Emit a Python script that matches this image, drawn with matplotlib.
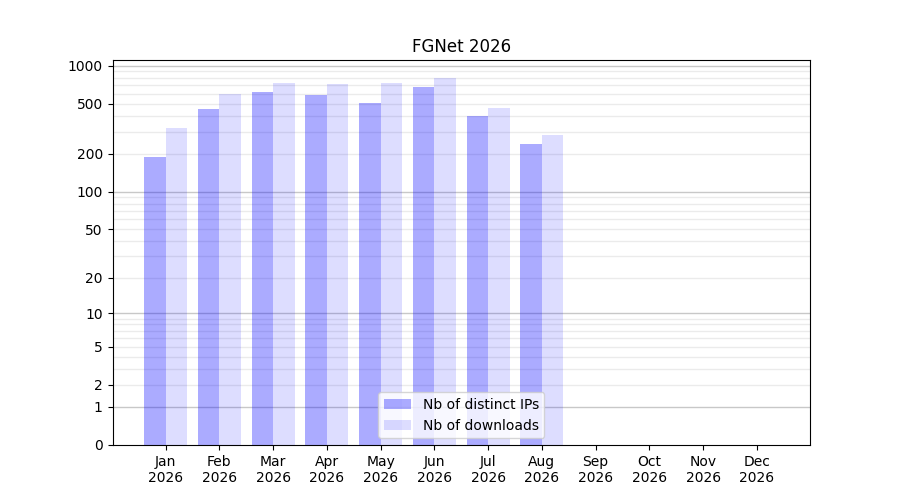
import numpy as np
import matplotlib
matplotlib.use("Agg")
import matplotlib.pyplot as plt

months = ["Jan", "Feb", "Mar", "Apr", "May", "Jun", "Jul", "Aug", "Sep", "Oct", "Nov", "Dec"]
year = "2026"
distinct_ips = [190, 457, 623, 580, 510, 683, 402, 241, 0, 0, 0, 0]
downloads = [323, 600, 734, 720, 734, 793, 465, 284, 0, 0, 0, 0]
ytick_values = [0, 1, 2, 5, 10, 20, 50, 100, 200, 500, 1000]
title = "FGNet 2026"

fig, ax = plt.subplots(figsize=(9, 5), dpi=100)
ax.set_yscale("function", functions=(lambda v: np.log10(np.maximum(v, 0) + 1),
                                      lambda t: 10 ** t - 1))

x = np.arange(len(months))
w = 0.4
ax.bar(x - w / 2, distinct_ips, width=w, color="blue", alpha=0.33,
       label="Nb of distinct IPs", zorder=2)
ax.bar(x + w / 2, downloads, width=w, color="blue", alpha=0.133,
       label="Nb of downloads", zorder=2)

# grid lines: decades darker, intermediate lighter
for d in [1, 10, 100]:
    for m in range(2, 10):
        ax.axhline(d * m, color="#ebebeb", lw=1, zorder=1)
for d in [1, 10, 100, 1000]:
    ax.axhline(d, color="#c8c8c8", lw=1, zorder=1)

ax.set_yticks(ytick_values)
ax.set_yticklabels([str(v) for v in ytick_values])
ax.minorticks_off()
ax.set_xticks(x)
ax.set_xticklabels([f"{m}\n{year}" for m in months])
ax.set_title(title)
ax.legend(loc="lower center")

fig.savefig("out.png", dpi=100)
